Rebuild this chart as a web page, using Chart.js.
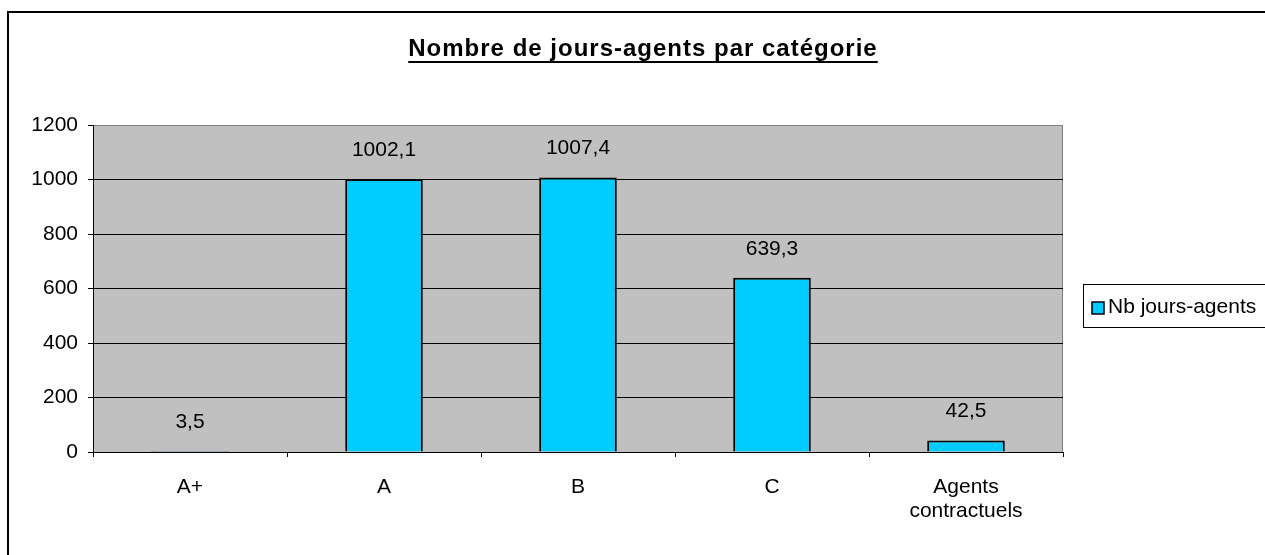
<!DOCTYPE html>
<html lang="fr">
<head>
<meta charset="utf-8">
<title>Nombre de jours-agents par catégorie</title>
<script src="https://cdn.jsdelivr.net/npm/chart.js@4/dist/chart.umd.min.js"></script>
<style>
    html, body { margin: 0; padding: 0; background: #fff; }
    #wrap { width: 1265px; height: 555px; position: relative; }
</style>
</head>
<body>
<div id="wrap"><canvas id="chart"></canvas></div>
<script>
// Données du graphique
const categories = ['A+', 'A', 'B', 'C', ['Agents', 'contractuels']];
const joursAgents = [3.5, 1002.1, 1007.4, 639.3, 42.5];
const yTicks = [0, 200, 400, 600, 800, 1000, 1200];
const seriesName = 'Nb jours-agents';
const chartTitle = 'Nombre de jours-agents par catégorie';

const FONT = "'Liberation Sans', Arial, sans-serif";
const BAR_COLOR = '#00CCFF';

// Cadre, fond gris de la zone de tracé, titre souligné, étiquettes et légende
const excelLook = {
    id: 'excelLook',
    beforeDraw(chart) {
        const { ctx, chartArea: a } = chart;
        ctx.save();
        ctx.fillStyle = '#C0C0C0';
        ctx.fillRect(a.left, a.top, a.right - a.left, a.bottom - a.top);
        ctx.strokeStyle = '#808080';
        ctx.lineWidth = 1;
        ctx.strokeRect(a.left + 0.5, a.top + 0.5, a.right - a.left - 1, a.bottom - a.top);
        ctx.restore();
    },
    afterDraw(chart) {
        const { ctx } = chart;
        ctx.save();

        // cadre extérieur
        ctx.strokeStyle = '#000';
        ctx.lineWidth = 2;
        ctx.strokeRect(8, 12, 1300, 600);

        // titre
        ctx.font = 'bold 24px ' + FONT;
        if ('letterSpacing' in ctx) ctx.letterSpacing = '1px';
        ctx.fillStyle = '#000';
        ctx.textAlign = 'center';
        ctx.textBaseline = 'alphabetic';
        const tx = 643, ty = 56;
        ctx.fillText(chartTitle, tx, ty);
        const tw = ctx.measureText(chartTitle).width;
        ctx.fillRect(tx - tw / 2, ty + 5, tw, 2);
        if ('letterSpacing' in ctx) ctx.letterSpacing = '0px';

        // valeurs au-dessus des barres
        const meta = chart.getDatasetMeta(0);
        ctx.font = '21px ' + FONT;
        ctx.textBaseline = 'middle';
        meta.data.forEach((bar, i) => {
            const label = String(joursAgents[i]).replace('.', ',');
            ctx.fillText(label, bar.x, bar.y - 29);
        });

        // légende
        ctx.lineWidth = 1;
        ctx.strokeStyle = '#000';
        ctx.strokeRect(1083.5, 284.5, 300, 43);
        ctx.fillStyle = BAR_COLOR;
        ctx.fillRect(1092, 302, 12, 12);
        ctx.lineWidth = 1.5;
        ctx.strokeRect(1092, 302, 12, 12);
        ctx.fillStyle = '#000';
        ctx.textAlign = 'left';
        ctx.fillText(seriesName, 1108, 307);

        ctx.restore();
    }
};

const chart = new Chart(document.getElementById('chart'), {
    type: 'bar',
    data: {
        labels: categories,
        datasets: [{
            label: seriesName,
            data: joursAgents,
            backgroundColor: BAR_COLOR,
            borderColor: '#000',
            borderWidth: 2,
            categoryPercentage: 0.8,
            barPercentage: 0.5
        }]
    },
    options: {
        responsive: true,
        maintainAspectRatio: false,
        animation: false,
        layout: {
            padding: { left: 8, right: 202, top: 125, bottom: 0 }
        },
        scales: {
            y: {
                min: 0,
                max: 1200,
                afterFit(scale) { scale.width = 85; },
                afterBuildTicks(scale) { scale.ticks = yTicks.map(v => ({ value: v })); },
                border: { color: '#000', width: 1 },
                grid: {
                    color: ctx => (ctx.tick && ctx.tick.value === 1200) ? '#808080' : '#000',
                    lineWidth: 1,
                    tickLength: 5,
                    tickColor: '#000'
                },
                ticks: {
                    color: '#000',
                    font: { family: FONT, size: 21 },
                    padding: 10,
                    callback: v => String(v)
                }
            },
            x: {
                afterFit(scale) { scale.height = 103; },
                border: { color: '#000', width: 1 },
                grid: {
                    offset: true,
                    drawOnChartArea: false,
                    tickLength: 5,
                    color: '#000'
                },
                ticks: {
                    color: '#000',
                    font: { family: FONT, size: 21, lineHeight: 1.15 },
                    padding: 18,
                    maxRotation: 0
                }
            }
        },
        plugins: {
            legend: { display: false },
            title: { display: false },
            tooltip: { enabled: false }
        }
    },
    plugins: [excelLook]
});
</script>
</body>
</html>
